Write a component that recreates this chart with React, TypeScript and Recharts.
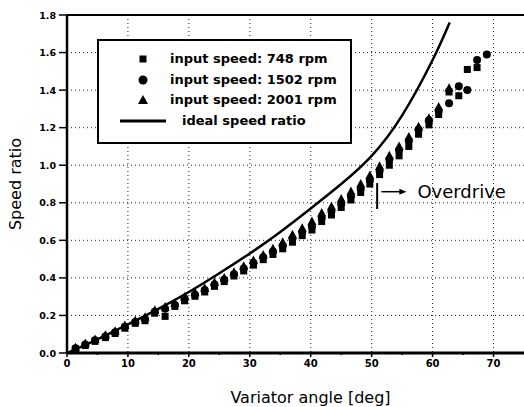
import {
  ComposedChart,
  Line,
  Scatter,
  XAxis,
  YAxis,
  CartesianGrid,
  Legend,
  ReferenceLine,
} from "recharts";

const angle748 = [1.4, 3.0, 4.6, 6.3, 7.9, 9.5, 11.2, 12.8, 14.4, 16.1, 17.7, 19.3, 21.0, 22.6, 24.2, 25.8, 27.4, 29.0, 30.6, 32.2, 33.8, 35.4, 37.0, 38.6, 40.2, 41.8, 43.4, 45.0, 46.6, 48.2, 49.7, 51.3, 52.9, 54.5, 56.1, 57.7, 59.4, 61.0, 62.7, 64.3, 65.7, 67.3];
const ratio748 = [0.02, 0.04, 0.062, 0.082, 0.104, 0.132, 0.158, 0.172, 0.212, 0.195, 0.248, 0.278, 0.302, 0.325, 0.355, 0.38, 0.41, 0.437, 0.468, 0.497, 0.525, 0.555, 0.59, 0.625, 0.655, 0.7, 0.735, 0.775, 0.815, 0.855, 0.9, 0.95, 1.0, 1.05, 1.1, 1.165, 1.215, 1.27, 1.39, 1.37, 1.51, 1.52];

const angle1502 = [1.4, 3.0, 4.6, 6.3, 7.9, 9.5, 11.2, 12.8, 14.4, 16.1, 17.7, 19.3, 21.0, 22.6, 24.2, 25.8, 27.4, 29.0, 30.6, 32.2, 33.8, 35.4, 37.0, 38.6, 40.2, 41.8, 43.4, 45.0, 46.6, 48.2, 49.7, 51.3, 52.9, 54.5, 56.1, 57.7, 59.4, 61.0, 62.7, 64.3, 65.7, 67.3, 68.9];
const ratio1502 = [0.025, 0.045, 0.068, 0.088, 0.11, 0.14, 0.165, 0.18, 0.22, 0.235, 0.255, 0.29, 0.31, 0.335, 0.365, 0.39, 0.42, 0.45, 0.48, 0.51, 0.54, 0.57, 0.61, 0.645, 0.675, 0.72, 0.755, 0.795, 0.835, 0.875, 0.92, 0.97, 1.03, 1.08, 1.13, 1.19, 1.24, 1.29, 1.33, 1.42, 1.4, 1.56, 1.59];

const angle2001 = [1.4, 3.0, 4.6, 6.3, 7.9, 9.5, 11.2, 12.8, 14.4, 16.1, 17.7, 19.3, 21.0, 22.6, 24.2, 25.8, 27.4, 29.0, 30.6, 32.2, 33.8, 35.4, 37.0, 38.6, 40.2, 41.8, 43.4, 45.0, 46.6, 48.2, 49.7, 51.3, 52.9, 54.5, 56.1, 57.7, 59.4, 61.0, 62.7];
const ratio2001 = [0.028, 0.05, 0.072, 0.094, 0.116, 0.146, 0.172, 0.19, 0.228, 0.245, 0.265, 0.298, 0.322, 0.345, 0.375, 0.4, 0.43, 0.462, 0.492, 0.522, 0.555, 0.59, 0.63, 0.665, 0.7, 0.745, 0.78, 0.82, 0.86, 0.9, 0.945, 0.995, 1.05, 1.1, 1.15, 1.205, 1.25, 1.31, 1.41];

// ideal speed ratio curve
const idealAngle = [0, 5, 10, 15, 20, 25, 30, 35, 40, 45, 50, 55, 60, 62.8];
const idealRatio = [0, 0.073, 0.152, 0.235, 0.325, 0.425, 0.53, 0.645, 0.77, 0.9, 1.05, 1.265, 1.56, 1.76];

const xTicks = [0, 5, 10, 15, 20, 25, 30, 35, 40, 45, 50, 55, 60, 65, 70];
const xGrid = [10, 20, 30, 40, 50, 60, 70];
const yTicks = [0, 0.1, 0.2, 0.3, 0.4, 0.5, 0.6, 0.7, 0.8, 0.9, 1.0, 1.1, 1.2, 1.3, 1.4, 1.5, 1.6, 1.7, 1.8];
const yGrid = [0.2, 0.4, 0.6, 0.8, 1.0, 1.2, 1.4, 1.6];

const legendItems = [
  { label: "input speed: 748 rpm", kind: "square" },
  { label: "input speed: 1502 rpm", kind: "circle" },
  { label: "input speed: 2001 rpm", kind: "triangle" },
  { label: "ideal speed ratio", kind: "line" },
];

const zip = (xs: number[], ys: number[]) => xs.map((x, i) => ({ x, y: ys[i] }));

const data748 = zip(angle748, ratio748);
const data1502 = zip(angle1502, ratio1502);
const data2001 = zip(angle2001, ratio2001);
const idealData = zip(idealAngle, idealRatio);

const FONT = "'DejaVu Sans', Verdana, sans-serif";

const SquareDot = (p: any) => <rect x={p.cx - 3.5} y={p.cy - 3.5} width={7} height={7} fill="#000" />;
const CircleDot = (p: any) => <circle cx={p.cx} cy={p.cy} r={4} fill="#000" />;
const TriangleDot = (p: any) => (
  <polygon points={`${p.cx},${p.cy - 5} ${p.cx + 4.5},${p.cy + 3.5} ${p.cx - 4.5},${p.cy + 3.5}`} fill="#000" />
);

const YTick = (props: any) => {
  const { x, y, payload } = props;
  const v = Math.round(payload.value * 10);
  const major = v % 2 === 0;
  return (
    <g>
      <line x1={x + (major ? 3 : 8)} x2={x + 11} y1={y} y2={y} stroke="#000" strokeWidth={1.5} />
      {major && (
        <text x={x} y={y} textAnchor="end" dominantBaseline="central" fontSize={9.5} fontWeight="bold" fontFamily={FONT} fill="#000">
          {payload.value.toFixed(1)}
        </text>
      )}
    </g>
  );
};

const XTick = (props: any) => {
  const { x, y, payload } = props;
  const major = payload.value % 10 === 0;
  return (
    <g>
      <line x1={x} x2={x} y1={y - 6} y2={y - (major ? 2 : 4)} stroke="#000" strokeWidth={1.5} />
      {major && (
        <text x={x} y={y} dy="0.75em" textAnchor="middle" fontSize={10} fontWeight="bold" fontFamily={FONT} fill="#000">
          {payload.value}
        </text>
      )}
    </g>
  );
};

const XTitle = (props: any) => {
  const vb = props.viewBox;
  return (
    <text x={vb.x + vb.width / 2 + 15} y={vb.y + 44} textAnchor="middle" dominantBaseline="central" fontSize={16} fontFamily={FONT} fill="#000">
      Variator angle [deg]
    </text>
  );
};

const YTitle = (props: any) => {
  const vb = props.viewBox;
  const cx = vb.x + 15;
  const cy = vb.y + vb.height / 2;
  return (
    <text x={cx} y={cy} transform={`rotate(-90, ${cx}, ${cy})`} textAnchor="middle" dominantBaseline="central" fontSize={16} fontFamily={FONT} fill="#000">
      Speed ratio
    </text>
  );
};

const ArrowShape = (props: any) => {
  const { x1, y1, x2, y2 } = props;
  return (
    <g>
      <line x1={x1} y1={y1} x2={x2 - 5} y2={y2} stroke="#000" strokeWidth={1.5} />
      <polygon points={`${x2},${y2} ${x2 - 7},${y2 - 3} ${x2 - 7},${y2 + 3}`} fill="#000" />
      <text x={x2 + 11} y={y2} dominantBaseline="central" fontSize={18} fontFamily={FONT} fill="#000">
        Overdrive
      </text>
    </g>
  );
};

const LegendIcon = ({ kind }: { kind: string }) => {
  if (kind === "line") {
    return (
      <svg width={50} height={10} style={{ position: "absolute", left: 23, top: 5 }}>
        <line x1={0} x2={46} y1={5} y2={5} stroke="#000" strokeWidth={3} />
      </svg>
    );
  }
  return (
    <svg width={12} height={12} style={{ position: "absolute", left: 40, top: 4 }}>
      {kind === "square" && <rect x={2.5} y={2.5} width={7} height={7} fill="#000" />}
      {kind === "circle" && <circle cx={6} cy={6} r={4.5} fill="#000" />}
      {kind === "triangle" && <polygon points="6,1 11,10 1,10" fill="#000" />}
    </svg>
  );
};

const LegendBox = () => (
  <div
    style={{
      position: "relative",
      width: 255,
      height: 105,
      boxSizing: "border-box",
      border: "2px solid #000",
      background: "#fff",
      fontFamily: FONT,
      fontSize: 13,
      fontWeight: "bold",
      color: "#000",
    }}
  >
    {legendItems.map((item, i) => (
      <div key={item.label} style={{ position: "absolute", left: -2, top: 8 + i * 20.7, width: 255, height: 20 }}>
        <LegendIcon kind={item.kind} />
        <span style={{ position: "absolute", left: item.kind === "line" ? 85 : 73, top: 2, whiteSpace: "nowrap", lineHeight: "16px" }}>
          {item.label}
        </span>
      </div>
    ))}
  </div>
);

export default function App() {
  return (
    <div style={{ position: "absolute", left: 0, top: 0, background: "#fff" }}>
      <ComposedChart width={524} height={407} margin={{ top: 15, right: 0, bottom: 0, left: 0 }}>
        <CartesianGrid
          horizontalValues={yGrid}
          verticalValues={xGrid}
          stroke="#222"
          strokeDasharray="1 3"
          strokeWidth={1}
        />
        <XAxis
          type="number"
          dataKey="x"
          domain={[0, 75]}
          ticks={xTicks}
          height={54}
          tickSize={4}
          tickMargin={2}
          tickLine={false}
          tick={<XTick />}
          axisLine={{ stroke: "#000", strokeWidth: 3 }}
          label={<XTitle />}
          allowDataOverflow
        />
        <YAxis
          type="number"
          dataKey="y"
          domain={[0, 1.8]}
          ticks={yTicks}
          width={67}
          tickSize={8}
          tickMargin={3}
          tickLine={false}
          tick={<YTick />}
          axisLine={{ stroke: "#000", strokeWidth: 2.5 }}
          label={<YTitle />}
          allowDataOverflow
        />
        <ReferenceLine y={1.8} stroke="#000" strokeWidth={2} />
        <Legend
          layout="horizontal"
          verticalAlign="middle"
          align="center"
          wrapperStyle={{ left: 97, top: 39, width: 255, height: 105 }}
          content={() => <LegendBox />}
        />
        <Line
          data={idealData}
          dataKey="y"
          type="natural"
          stroke="#000"
          strokeWidth={2.5}
          dot={false}
          activeDot={false}
          isAnimationActive={false}
          legendType="none"
        />
        <Scatter name="input speed: 748 rpm" data={data748} shape={SquareDot} isAnimationActive={false} />
        <Scatter name="input speed: 1502 rpm" data={data1502} shape={CircleDot} isAnimationActive={false} />
        <Scatter name="input speed: 2001 rpm" data={data2001} shape={TriangleDot} isAnimationActive={false} />
        <ReferenceLine
          segment={[
            { x: 50.9, y: 0.767 },
            { x: 50.9, y: 0.905 },
          ]}
          stroke="#000"
          strokeWidth={2}
        />
        <ReferenceLine
          segment={[
            { x: 51.6, y: 0.859 },
            { x: 55.7, y: 0.859 },
          ]}
          shape={<ArrowShape />}
        />
      </ComposedChart>
    </div>
  );
}
